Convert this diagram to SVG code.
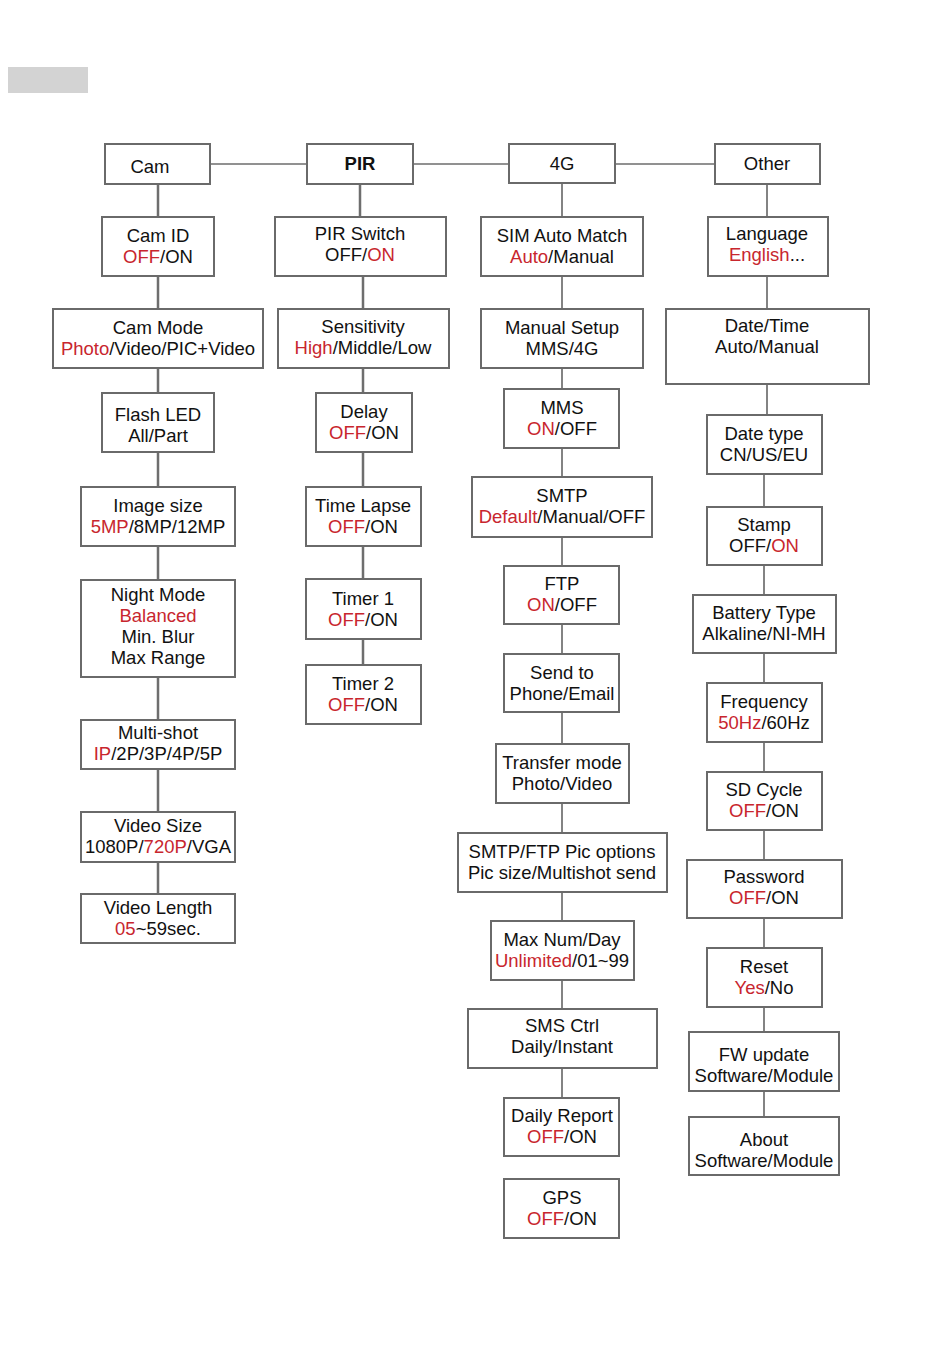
<svg xmlns="http://www.w3.org/2000/svg" width="950" height="1363" viewBox="0 0 950 1363">
<style>
.b{fill:#fff;stroke:#6a6a6a;stroke-width:2}
.t{font-family:"Liberation Sans",Arial,sans-serif;font-size:18.5px;fill:#111;text-anchor:middle}
.r{fill:#c8262e}
.c{stroke:#6e6e6e;fill:none}
.w{stroke-width:2.5}
.n{stroke-width:1.7}
</style>
<rect x="0" y="0" width="950" height="1363" fill="#fff"/>
<rect x="8" y="67" width="80" height="26" fill="#d3d3d3"/>
<g id="connectors">
<path class="c n" d="M210 164H307M413 164H509M615 164H715"/>
<path class="c w" d="M158 184V217M158 276V309M158 368V393M158 452V487M158 546V580M158 677V720M158 769V812M158 862V894"/>
<path class="c w" d="M360 184V217M363 276V309M363 368V393M363 452V487M363 546V579M363 639V665"/>
<path class="c n" d="M562 183V217M562 276V309M562 368V389M562 448V477M562 537V566M562 624V654M562 712V744M562 803V833M562 892V921M562 980V1009M562 1068V1098"/>
<path class="c n" d="M767 184V217M767 276V309M767 384V415M764 474V507M764 565V595M764 653V683M764 742V772M764 830V860M764 918V948M764 1007V1032M764 1091V1117"/>
</g>
<g id="cam"><rect class="b" x="105" y="144" width="105" height="40"/><text class="t" x="150" y="173">Cam</text></g>
<g id="pir"><rect class="b" x="307" y="144" width="106" height="40"/><text class="t" x="360" y="170" font-weight="bold">PIR</text></g>
<g id="g4"><rect class="b" x="509" y="144" width="106" height="39"/><text class="t" x="562" y="170">4G</text></g>
<g id="other"><rect class="b" x="715" y="144" width="105" height="40"/><text class="t" x="767" y="170">Other</text></g>

<g id="camid"><rect class="b" x="102" y="217" width="112" height="59"/><text class="t" x="158" y="242">Cam ID</text><text class="t" x="158" y="263"><tspan class="r">OFF</tspan>/ON</text></g>
<g id="cammode"><rect class="b" x="53" y="309" width="210" height="59"/><text class="t" x="158" y="334">Cam Mode</text><text class="t" x="158" y="355"><tspan class="r">Photo</tspan>/Video/PIC+Video</text></g>
<g id="flash"><rect class="b" x="102" y="393" width="112" height="59"/><text class="t" x="158" y="421">Flash LED</text><text class="t" x="158" y="442">All/Part</text></g>
<g id="imgsize"><rect class="b" x="81" y="487" width="154" height="59"/><text class="t" x="158" y="512">Image size</text><text class="t" x="158" y="533"><tspan class="r">5MP</tspan>/8MP/12MP</text></g>
<g id="night"><rect class="b" x="81" y="580" width="154" height="97"/><text class="t" x="158" y="601">Night Mode</text><text class="t r" x="158" y="622">Balanced</text><text class="t" x="158" y="643">Min. Blur</text><text class="t" x="158" y="664">Max Range</text></g>
<g id="multishot"><rect class="b" x="81" y="720" width="154" height="49"/><text class="t" x="158" y="739">Multi-shot</text><text class="t" x="158" y="760"><tspan class="r">IP</tspan>/2P/3P/4P/5P</text></g>
<g id="vsize"><rect class="b" x="81" y="812" width="154" height="50"/><text class="t" x="158" y="832">Video Size</text><text class="t" x="158" y="853">1080P/<tspan class="r">720P</tspan>/VGA</text></g>
<g id="vlen"><rect class="b" x="81" y="894" width="154" height="49"/><text class="t" x="158" y="914">Video Length</text><text class="t" x="158" y="935"><tspan class="r">05</tspan>~59sec.</text></g>

<g id="pirswitch"><rect class="b" x="275" y="217" width="171" height="59"/><text class="t" x="360" y="240">PIR Switch</text><text class="t" x="360" y="261">OFF/<tspan class="r">ON</tspan></text></g>
<g id="sens"><rect class="b" x="278" y="309" width="171" height="59"/><text class="t" x="363" y="333">Sensitivity</text><text class="t" x="363" y="354"><tspan class="r">High</tspan>/Middle/Low</text></g>
<g id="delay"><rect class="b" x="316" y="393" width="96" height="59"/><text class="t" x="364" y="418">Delay</text><text class="t" x="364" y="439"><tspan class="r">OFF</tspan>/ON</text></g>
<g id="timelapse"><rect class="b" x="306" y="487" width="115" height="59"/><text class="t" x="363" y="512">Time Lapse</text><text class="t" x="363" y="533"><tspan class="r">OFF</tspan>/ON</text></g>
<g id="timer1"><rect class="b" x="306" y="579" width="115" height="60"/><text class="t" x="363" y="605">Timer 1</text><text class="t" x="363" y="626"><tspan class="r">OFF</tspan>/ON</text></g>
<g id="timer2"><rect class="b" x="306" y="665" width="115" height="59"/><text class="t" x="363" y="690">Timer 2</text><text class="t" x="363" y="711"><tspan class="r">OFF</tspan>/ON</text></g>

<g id="sim"><rect class="b" x="481" y="217" width="162" height="59"/><text class="t" x="562" y="242">SIM Auto Match</text><text class="t" x="562" y="263"><tspan class="r">Auto</tspan>/Manual</text></g>
<g id="manual"><rect class="b" x="481" y="309" width="162" height="59"/><text class="t" x="562" y="334">Manual Setup</text><text class="t" x="562" y="355">MMS/4G</text></g>
<g id="mms"><rect class="b" x="504" y="389" width="115" height="59"/><text class="t" x="562" y="414">MMS</text><text class="t" x="562" y="435"><tspan class="r">ON</tspan>/OFF</text></g>
<g id="smtp"><rect class="b" x="472" y="477" width="180" height="60"/><text class="t" x="562" y="502">SMTP</text><text class="t" x="562" y="523"><tspan class="r">Default</tspan>/Manual/OFF</text></g>
<g id="ftp"><rect class="b" x="504" y="566" width="115" height="58"/><text class="t" x="562" y="590">FTP</text><text class="t" x="562" y="611"><tspan class="r">ON</tspan>/OFF</text></g>
<g id="sendto"><rect class="b" x="504" y="654" width="115" height="58"/><text class="t" x="562" y="679">Send to</text><text class="t" x="562" y="700">Phone/Email</text></g>
<g id="transfer"><rect class="b" x="496" y="744" width="133" height="59"/><text class="t" x="562" y="769">Transfer mode</text><text class="t" x="562" y="790">Photo/Video</text></g>
<g id="picopt"><rect class="b" x="458" y="833" width="209" height="59"/><text class="t" x="562" y="858">SMTP/FTP Pic options</text><text class="t" x="562" y="879">Pic size/Multishot send</text></g>
<g id="maxnum"><rect class="b" x="491" y="921" width="143" height="59"/><text class="t" x="562" y="946">Max Num/Day</text><text class="t" x="562" y="967"><tspan class="r">Unlimited</tspan>/01~99</text></g>
<g id="smsctrl"><rect class="b" x="468" y="1009" width="189" height="59"/><text class="t" x="562" y="1032">SMS Ctrl</text><text class="t" x="562" y="1053">Daily/Instant</text></g>
<g id="daily"><rect class="b" x="504" y="1098" width="115" height="58"/><text class="t" x="562" y="1122">Daily Report</text><text class="t" x="562" y="1143"><tspan class="r">OFF</tspan>/ON</text></g>
<g id="gps"><rect class="b" x="504" y="1179" width="115" height="59"/><text class="t" x="562" y="1204">GPS</text><text class="t" x="562" y="1225"><tspan class="r">OFF</tspan>/ON</text></g>

<g id="lang"><rect class="b" x="708" y="217" width="120" height="59"/><text class="t" x="767" y="240">Language</text><text class="t" x="767" y="261"><tspan class="r">English</tspan>...</text></g>
<g id="datetime"><rect class="b" x="666" y="309" width="203" height="75"/><text class="t" x="767" y="332">Date/Time</text><text class="t" x="767" y="353">Auto/Manual</text></g>
<g id="datetype"><rect class="b" x="707" y="415" width="115" height="59"/><text class="t" x="764" y="440">Date type</text><text class="t" x="764" y="461">CN/US/EU</text></g>
<g id="stamp"><rect class="b" x="707" y="507" width="115" height="58"/><text class="t" x="764" y="531">Stamp</text><text class="t" x="764" y="552">OFF/<tspan class="r">ON</tspan></text></g>
<g id="battery"><rect class="b" x="693" y="595" width="143" height="58"/><text class="t" x="764" y="619">Battery Type</text><text class="t" x="764" y="640">Alkaline/NI-MH</text></g>
<g id="freq"><rect class="b" x="707" y="683" width="115" height="59"/><text class="t" x="764" y="708">Frequency</text><text class="t" x="764" y="729"><tspan class="r">50Hz</tspan>/60Hz</text></g>
<g id="sdcycle"><rect class="b" x="707" y="772" width="115" height="58"/><text class="t" x="764" y="796">SD Cycle</text><text class="t" x="764" y="817"><tspan class="r">OFF</tspan>/ON</text></g>
<g id="password"><rect class="b" x="687" y="860" width="155" height="58"/><text class="t" x="764" y="883">Password</text><text class="t" x="764" y="904"><tspan class="r">OFF</tspan>/ON</text></g>
<g id="reset"><rect class="b" x="707" y="948" width="115" height="59"/><text class="t" x="764" y="973">Reset</text><text class="t" x="764" y="994"><tspan class="r">Yes</tspan>/No</text></g>
<g id="fw"><rect class="b" x="689" y="1032" width="150" height="59"/><text class="t" x="764" y="1061">FW update</text><text class="t" x="764" y="1082">Software/Module</text></g>
<g id="about"><rect class="b" x="689" y="1117" width="150" height="58"/><text class="t" x="764" y="1146">About</text><text class="t" x="764" y="1167">Software/Module</text></g>
</svg>
